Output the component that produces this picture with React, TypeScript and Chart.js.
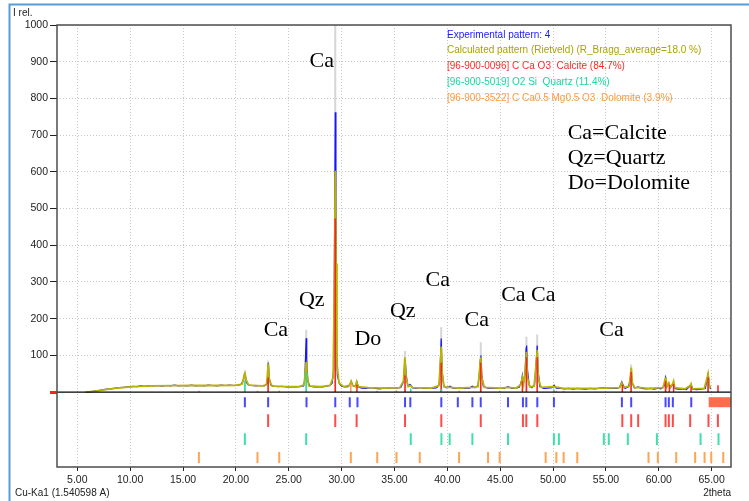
import React, { useEffect, useRef } from "react";
import { Chart, registerables } from "chart.js";
Chart.register(...registerables);

// ---- axes ----
const X_MIN = 3.08;
const X_MAX = 66.83;
const Y_MIN = -204;
const Y_MAX = 1000;
const xTickValues = [5, 10, 15, 20, 25, 30, 35, 40, 45, 50, 55, 60, 65];
const yTickValues = [0, 100, 200, 300, 400, 500, 600, 700, 800, 900, 1000];

// ---- experimental pattern (blue) ----
const expX = [5.8, 6.2, 6.6, 7.0, 7.4, 7.8, 8.2, 8.6, 9.0, 9.4, 9.8, 10.2, 10.6, 11.0, 11.4, 11.8, 12.2, 12.6, 13.0, 13.4, 13.8, 14.2, 14.6, 15.0, 15.4, 15.8, 16.2, 16.6, 17.0, 17.4, 17.8, 18.2, 18.6, 19.0, 19.4, 19.8, 20.2, 20.5, 20.7, 20.8, 20.9, 21.0, 21.2, 21.5, 21.9, 22.3, 22.7, 22.95, 23.02, 23.07, 23.15, 23.3, 23.6, 24.0, 24.4, 24.8, 25.2, 25.6, 26.0, 26.4, 26.52, 26.6, 26.65, 26.7, 26.8, 27.0, 27.4, 27.8, 28.2, 28.6, 28.9, 29.1, 29.25, 29.33, 29.4, 29.46, 29.52, 29.6, 29.8, 30.0, 30.3, 30.6, 30.8, 30.92, 31.05, 31.3, 31.45, 31.58, 31.9, 32.3, 32.8, 33.2, 33.6, 34.0, 34.4, 34.8, 35.2, 35.6, 35.85, 35.95, 36.02, 36.1, 36.25, 36.5, 36.7, 37.0, 37.4, 37.8, 38.2, 38.6, 39.0, 39.25, 39.35, 39.42, 39.5, 39.65, 39.9, 40.25, 40.5, 40.9, 41.3, 41.7, 42.1, 42.37, 42.6, 42.9, 43.05, 43.12, 43.17, 43.25, 43.4, 43.8, 44.2, 44.6, 45.0, 45.4, 45.75, 46.1, 46.5, 46.8, 47.0, 47.1, 47.2, 47.35, 47.45, 47.5, 47.58, 47.75, 48.0, 48.25, 48.4, 48.5, 48.58, 48.75, 49.1, 49.5, 49.9, 50.1, 50.3, 50.7, 51.1, 51.5, 51.9, 52.3, 52.7, 53.1, 53.5, 53.9, 54.3, 54.8, 55.2, 55.6, 56.0, 56.3, 56.5, 56.62, 56.8, 57.1, 57.28, 57.38, 57.48, 57.7, 58.05, 58.4, 58.8, 59.2, 59.6, 59.9, 60.2, 60.5, 60.64, 60.75, 60.95, 61.1, 61.3, 61.4, 61.52, 61.8, 62.2, 62.6, 63.0, 63.07, 63.2, 63.6, 64.0, 64.4, 64.6, 64.68, 64.78, 64.9];
const expY = [0, 1, 3, 4, 6, 8, 9, 11, 12, 13, 14, 16, 15, 17, 16, 18, 17, 18, 16, 18, 17, 19, 17, 18, 17, 19, 17, 18, 17, 19, 18, 17, 19, 18, 19, 18, 19, 21, 32, 48, 44, 26, 19, 18, 17, 18, 17, 24, 60, 80, 40, 19, 16, 15, 16, 14, 15, 14, 15, 17, 35, 110, 147, 90, 30, 16, 14, 15, 14, 16, 18, 24, 60, 410, 762, 500, 130, 45, 22, 16, 14, 15, 22, 29, 18, 15, 27, 14, 11, 10, 12, 10, 9, 11, 10, 12, 11, 13, 28, 70, 86, 50, 18, 21, 12, 10, 12, 10, 11, 10, 12, 22, 90, 146, 60, 18, 12, 16, 11, 10, 12, 10, 11, 16, 12, 18, 55, 88, 100, 50, 16, 11, 10, 11, 10, 11, 15, 10, 11, 13, 28, 46, 25, 50, 120, 127, 60, 18, 12, 20, 80, 127, 60, 15, 10, 11, 12, 19, 11, 10, 9, 10, 8, 10, 9, 8, 10, 9, 10, 12, 10, 11, 10, 13, 28, 20, 10, 14, 30, 58, 25, 11, 14, 10, 9, 10, 8, 11, 9, 16, 38, 14, 24, 12, 20, 26, 10, 8, 9, 7, 18, 21, 8, 7, 8, 10, 40, 48, 20, 8];

// ---- calculated pattern (olive) ----
const calcX = [5.8, 6.5, 7.5, 8.5, 9.5, 10.5, 12, 14, 16, 18, 20, 20.6, 20.78, 20.85, 20.95, 21.2, 22.5, 22.9, 23.0, 23.06, 23.15, 23.4, 24.5, 26, 26.45, 26.6, 26.65, 26.72, 26.9, 28, 28.9, 29.2, 29.32, 29.4, 29.47, 29.56, 29.75, 30.2, 30.75, 30.9, 31.05, 31.3, 31.42, 31.55, 32.5, 34, 35.5, 35.85, 35.98, 36.1, 36.3, 36.52, 36.7, 38.5, 39.2, 39.34, 39.42, 39.52, 39.7, 40.25, 41, 42.37, 42.9, 43.08, 43.16, 43.26, 43.5, 45, 45.75, 46.5, 46.95, 47.1, 47.22, 47.38, 47.48, 47.58, 47.8, 48.2, 48.38, 48.5, 48.6, 48.85, 50.08, 51, 54, 56.3, 56.5, 56.65, 57.2, 57.32, 57.4, 57.5, 57.75, 58.05, 59, 60.4, 60.6, 60.66, 60.78, 60.95, 61.08, 61.3, 61.4, 61.5, 62.5, 62.98, 63.05, 63.15, 64.3, 64.58, 64.66, 64.78, 64.9];
const calcY = [0, 2, 6, 10, 13, 15, 17, 17.5, 18, 18, 18.5, 22, 45, 55, 35, 19, 17, 20, 55, 78, 35, 17, 15, 15, 20, 65, 82, 50, 17, 15, 18, 40, 300, 603, 350, 80, 25, 15, 18, 30, 18, 16, 28, 15, 12, 11, 12, 30, 95, 40, 15, 18, 12, 11, 18, 80, 124, 50, 14, 13, 11, 13, 15, 70, 95, 40, 13, 11, 13, 11, 20, 40, 22, 60, 110, 40, 14, 16, 70, 115, 40, 13, 15, 10, 10, 12, 25, 12, 16, 45, 67, 25, 11, 13, 10, 12, 35, 40, 15, 25, 13, 22, 30, 12, 9, 18, 22, 9, 10, 40, 50, 18, 10];

// ---- peak maxima (light grey) ----
const peakMaxX = [20.85, 23.05, 26.65, 29.4, 36.0, 39.42, 43.16, 47.48, 48.5, 57.38, 60.64, 64.66];
const peakMaxY = [60, 86, 170, 1100, 112, 177, 136, 151, 157, 75, 45, 55];

// ---- phase profiles (sticks at peaks) ----
const calcitePeakX = [23.05, 29.4, 31.45, 36.0, 39.42, 43.16, 47.1, 47.48, 48.5, 56.55, 57.38, 60.64, 61.0, 61.4, 63.05, 64.66, 65.6];
const calcitePeakY = [40, 473, 20, 45, 80, 80, 30, 95, 95, 20, 55, 30, 20, 22, 15, 40, 19];
const quartzPeakX = [20.85, 26.65, 36.54, 39.44, 50.08];
const quartzPeakY = [30, 55, 10, 8, 8];
const dolomitePeakX = [16.5, 22.04, 24.1, 30.87, 33.36, 35.19, 41.11, 44.95, 50.31, 51.0];
const dolomitePeakY = [4, 4, 4, 22, 4, 5, 4, 4, 4, 4];

// ---- reflection position rows ----
const expTickPos = [20.85, 23.05, 26.68, 29.4, 30.77, 31.5, 36.0, 36.5, 39.43, 40.99, 42.37, 43.16, 45.74, 47.15, 47.47, 48.51, 50.08, 56.51, 57.39, 60.64, 60.95, 61.33, 63.07];
const calciteTickPos = [23.05, 29.4, 31.42, 36.0, 39.43, 43.16, 47.15, 47.47, 48.51, 56.55, 57.39, 58.05, 60.64, 60.95, 61.33, 62.97, 64.7, 65.59];
const quartzTickPos = [20.85, 26.65, 36.54, 39.44, 40.22, 42.37, 45.74, 50.08, 50.55, 54.8, 55.27, 57.07, 59.82, 63.95, 65.65];
const dolomiteTickPos = [16.5, 22.04, 24.1, 30.87, 33.37, 35.19, 37.39, 41.11, 43.85, 44.95, 49.3, 50.31, 51.0, 52.29, 59.03, 59.91, 61.65, 63.44, 64.33, 64.96, 66.1];
const excludedRange = [64.72, 66.83];

// ---- texts ----
const legendLines = [
  { text: "Experimental pattern: 4", color: "#1a1aff" },
  { text: "Calculated pattern (Rietveld) (R_Bragg_average=18.0 %)", color: "#aaa400" },
  { text: "[96-900-0096] C Ca O3  Calcite (84.7%)", color: "#ff2a2a" },
  { text: "[96-900-5019] O2 Si  Quartz (11.4%)", color: "#18d8a0" },
  { text: "[96-900-3522] C Ca0.5 Mg0.5 O3  Dolomite (3.9%)", color: "#ff9a3c" },
];
const peakLabels = [
  { text: "Ca", x: 28.13, y: 902 },
  { text: "Qz", x: 27.18, y: 251 },
  { text: "Ca", x: 23.78, y: 169 },
  { text: "Do", x: 32.48, y: 144 },
  { text: "Qz", x: 35.78, y: 221 },
  { text: "Ca", x: 39.09, y: 305 },
  { text: "Ca", x: 42.78, y: 196 },
  { text: "Ca Ca", x: 47.66, y: 264 },
  { text: "Ca", x: 55.53, y: 169 },
];
const keyLines = [
  { text: "Ca=Calcite", x: 51.38, y: 706 },
  { text: "Qz=Quartz", x: 51.38, y: 638 },
  { text: "Do=Dolomite", x: 51.38, y: 569 },
];

// row bounds (intensity units, below the zero line)
const ROWS = {
  exp: [-14, -41],
  calcite: [-60, -95],
  quartz: [-112, -144],
  dolomite: [-163, -193],
};

type P = { x: number; y: number | null };
const zip = (xs: number[], ys: number[]): P[] => xs.map((x, i) => ({ x, y: ys[i] }));
const sticks = (xs: number[], ys: number[]): P[] =>
  xs.flatMap((x, i) => [{ x, y: 0 }, { x, y: ys[i] }, { x, y: null }]);
const rowMarks = (xs: number[], r: number[]): P[] =>
  xs.flatMap((x) => [{ x, y: r[0] }, { x, y: r[1] }, { x, y: null }]);

const SANS = '"Liberation Sans", Arial, sans-serif';
const SERIF = '"Liberation Serif", "Times New Roman", serif';

const lineDs = (label: string, data: P[], color: string, width: number, order: number) => ({
  type: "line" as const,
  label,
  data,
  borderColor: color,
  backgroundColor: color,
  borderWidth: width,
  pointRadius: 0,
  tension: 0,
  spanGaps: false,
  fill: false,
  order,
});

const decorPlugin = {
  id: "decor",
  afterDatasetsDraw(chart: any) {
    const { ctx, chartArea } = chart;
    const xs = chart.scales.x;
    const ys = chart.scales.y;
    ctx.save();
    // plot frame
    ctx.strokeStyle = "#4d4d4d";
    ctx.lineWidth = 1.5;
    ctx.strokeRect(chartArea.left, chartArea.top, chartArea.right - chartArea.left, chartArea.bottom - chartArea.top);
    // outer blue frame
    ctx.strokeStyle = "#5b9bd5";
    ctx.lineWidth = 2;
    ctx.beginPath();
    ctx.moveTo(9.5, 501);
    ctx.lineTo(9.5, 4.5);
    ctx.lineTo(749, 4.5);
    ctx.stroke();
    // small texts
    ctx.font = `10px ${SANS}`;
    ctx.textBaseline = "middle";
    ctx.fillStyle = "#222";
    ctx.textAlign = "left";
    ctx.fillText("I rel.", 13, 13);
    ctx.fillText("Cu-Ka1 (1.540598 A)", 15, 493);
    ctx.textAlign = "right";
    ctx.fillText("2theta", chartArea.right, 493);
    // legend
    ctx.textAlign = "left";
    legendLines.forEach((l, i) => {
      ctx.fillStyle = l.color;
      ctx.fillText(l.text, 447, 35 + i * 15.7);
    });
    // peak annotations
    ctx.fillStyle = "#000";
    ctx.font = `22px ${SERIF}`;
    ctx.textAlign = "center";
    peakLabels.forEach((p) => {
      ctx.fillText(p.text, xs.getPixelForValue(p.x), ys.getPixelForValue(p.y));
    });
    ctx.textAlign = "left";
    keyLines.forEach((p) => {
      ctx.fillText(p.text, xs.getPixelForValue(p.x), ys.getPixelForValue(p.y));
    });
    ctx.restore();
  },
};

export default function App() {
  const ref = useRef<HTMLCanvasElement>(null);
  useEffect(() => {
    const datasets: any[] = [
      lineDs("zero", [{ x: X_MIN, y: 0 }, { x: X_MAX, y: 0 }], "#000", 1.2, 1),
      lineDs("excluded", [{ x: excludedRange[0], y: (ROWS.exp[0] + ROWS.exp[1]) / 2 }, { x: excludedRange[1], y: (ROWS.exp[0] + ROWS.exp[1]) / 2 }], "#ff6b4d", 10, 2),
      lineDs("exp ticks", rowMarks(expTickPos, ROWS.exp), "#4848ff", 2, 3),
      lineDs("calcite ticks", rowMarks(calciteTickPos, ROWS.calcite), "#ff4a4a", 2, 3),
      lineDs("quartz ticks", rowMarks(quartzTickPos, ROWS.quartz), "#3ee0a8", 2, 3),
      lineDs("dolomite ticks", rowMarks(dolomiteTickPos, ROWS.dolomite), "#ffa450", 2, 3),
      lineDs("dolomite", sticks(dolomitePeakX, dolomitePeakY), "#ff9a3c", 1.5, 4),
      lineDs("quartz", sticks(quartzPeakX, quartzPeakY), "#20e0a0", 1.5, 4),
      lineDs("calcite", sticks(calcitePeakX, calcitePeakY), "#ff2020", 1.5, 4),
      lineDs("calculated", zip(calcX, calcY), "#b9b400", 1.8, 5),
      lineDs("experimental", zip(expX, expY), "#1414ff", 1.2, 6),
      lineDs("peak max", sticks(peakMaxX, peakMaxY), "#d6d6d6", 2, 7),
    ];
    const chart = new Chart(ref.current as HTMLCanvasElement, {
      type: "line",
      data: { datasets },
      plugins: [decorPlugin],
      options: {
        animation: false,
        responsive: false,
        devicePixelRatio: 1,
        parsing: true,
        layout: { padding: { left: 0, top: 25, right: 18, bottom: 0 } },
        plugins: { legend: { display: false }, tooltip: { enabled: false } },
        scales: {
          x: {
            type: "linear",
            min: X_MIN,
            max: X_MAX,
            afterBuildTicks: (s: any) => {
              s.ticks = xTickValues.map((v) => ({ value: v }));
            },
            afterFit: (s: any) => {
              s.height = 34;
            },
            ticks: {
              callback: (v: any) => Number(v).toFixed(2),
              font: { family: SANS, size: 10.5 },
              color: "#222",
              padding: 3,
              maxRotation: 0,
              autoSkip: false,
            },
            grid: {
              color: "#c8c8c8",
              lineWidth: 1,
              drawTicks: true,
              tickLength: 4,
              tickColor: "#222",
              tickWidth: 1,
            },
            border: { display: false, dash: [1, 2] },
          },
          y: {
            type: "linear",
            min: Y_MIN,
            max: Y_MAX,
            afterBuildTicks: (s: any) => {
              s.ticks = yTickValues.map((v) => ({ value: v }));
            },
            afterFit: (s: any) => {
              s.width = 57;
            },
            ticks: {
              callback: (v: any) => (Number(v) === 0 ? "" : String(v)),
              font: { family: SANS, size: 10.5 },
              color: "#222",
              padding: 2,
              autoSkip: false,
            },
            grid: {
              color: (c: any) => (c.tick && c.tick.value === 0 ? "rgba(0,0,0,0)" : "#c8c8c8"),
              lineWidth: 1,
              drawTicks: true,
              tickLength: 7,
              tickColor: (c: any) => (c.tick && c.tick.value === 0 ? "#ff2020" : "#222"),
              tickWidth: (c: any) => (c.tick && c.tick.value === 0 ? 3 : 1),
            },
            border: { display: false, dash: [1, 2] },
          },
        },
      } as any,
    });
    return () => chart.destroy();
  }, []);
  return (
    <canvas
      ref={ref}
      width={749}
      height={501}
      style={{ position: "absolute", left: 0, top: 0, width: 749, height: 501, display: "block" }}
    />
  );
}
